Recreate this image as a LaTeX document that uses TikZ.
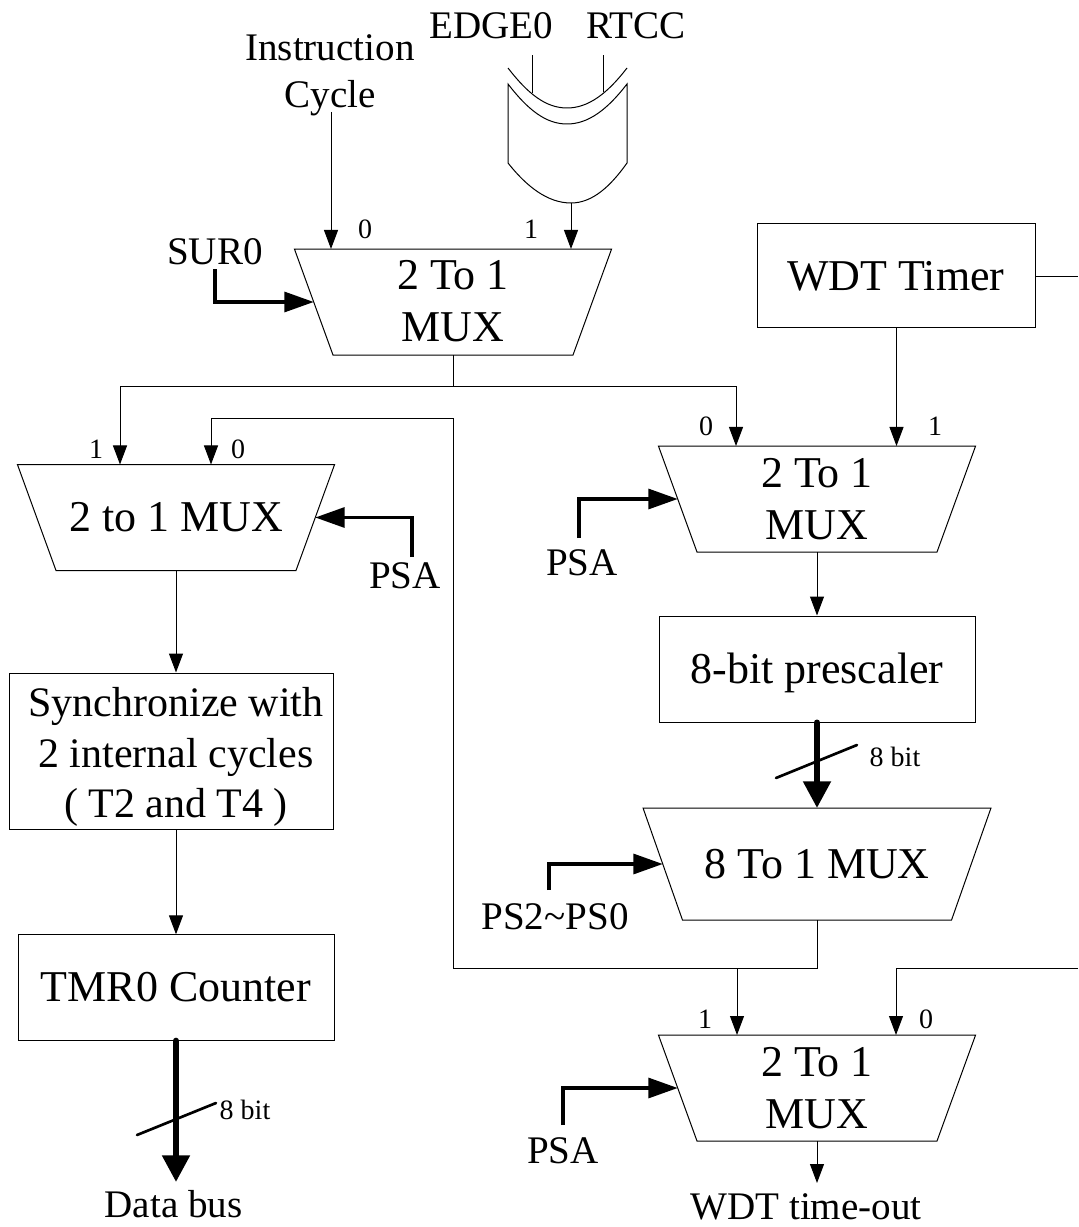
\documentclass[tikz,border=0pt]{standalone}
\usepackage{fontspec}
\setmainfont{Liberation Serif}
\usetikzlibrary{arrows.meta,shapes.geometric}
\tikzset{
 x=.75pt,y=-.75pt,
 wire/.style={line width=.75pt,draw=black},
 arr/.style={wire,-{Triangle[length=14.25pt,width=10.5pt]}},
 ctrl/.style={line width=2.3pt,line join=miter,-{Triangle[length=22pt,width=15pt]}},
 bus/.style={line width=4.5pt,line cap=round,-{Triangle[length=20pt,width=20pt]}},
 slash/.style={line width=2pt,line cap=round},
 big/.style={font=\fontsize{33}{39}\selectfont,align=center,inner sep=0pt},
 syntext/.style={font=\fontsize{31.5}{37.9}\selectfont,align=center,inner sep=0pt},
 mid/.style={font=\fontsize{29.3}{35}\selectfont,align=center,inner sep=0pt},
 tiny/.style={font=\fontsize{21}{25}\selectfont,inner sep=0pt},
 boxn/.style={big,draw,line width=.75pt,rectangle},
 mux/.style={draw,line width=.75pt,trapezium,shape border rotate=180,trapezium angle=70,outer sep=0pt,inner xsep=90pt,inner ysep=39.75pt},
 wide/.style={trapezium angle=70.6,inner xsep=100.9pt,inner ysep=42pt},
}
\begin{document}
\begin{tikzpicture}
\useasboundingbox (0,0) rectangle (1078,1227);
% multiplexers
\node[mux] (m1) at (453,302) {};
\node[big] (m1t) at (453,301) {2 To 1\\MUX};
\node[mux] (ml) at (176,517.5) {};
\node[big] (mlt) at (176,517.5) {2 to 1 MUX};
\node[mux] (m2) at (817,499) {};
\node[big] (m2t) at (817,499) {2 To 1\\MUX};
\node[mux,wide] (m8) at (817,864) {};
\node[big] (m8t) at (817,864) {8 To 1 MUX};
\node[mux] (mb) at (817,1088) {};
\node[big] (mbt) at (817,1088) {2 To 1\\MUX};
% boxes
\node[boxn,minimum width=209pt,minimum height=78pt] (wdt) at (896.5,275) {};
\node[big] (wdtt) at (896,276) {WDT Timer};
\node[boxn,minimum width=237pt,minimum height=79.5pt] (pre) at (817,669) {};
\node[big] (pret) at (817,673) {8-bit prescaler};
\node[boxn,minimum width=242.5pt,minimum height=117pt] (syn) at (171.5,751) {};
\node[syntext] (synt) at (176,757) {Synchronize with\\2 internal cycles\\( T2 and T4 )};
\node[boxn,minimum width=237pt,minimum height=79pt] (tmr) at (176,987.5) {};
\node[big] (tmrt) at (176,987.5) {TMR0 Counter};
% labels
\node[mid] (ic) at (330,75) {Instruction\\Cycle};
\node[mid] (edge) at (491,26) {EDGE0};
\node[mid] (rtcc) at (636,26) {RTCC};
\node[mid] (sur) at (215,252) {SUR0};
\node[mid] (psal) at (405,576) {PSA};
\node[mid] (psam) at (582,563) {PSA};
\node[mid] (psab) at (563,1151) {PSA};
\node[mid] (pss) at (555,917) {PS2\textasciitilde PS0};
\node[mid] (db) at (173.5,1204) {Data bus};
\node[mid] (to) at (806,1207) {WDT time-out};
\node[tiny] (b8a) at (895,757) {8 bit};
\node[tiny] (b8b) at (245,1110) {8 bit};
\node[tiny] (t1) at (365,229) {0};
\node[tiny] (t2) at (531,229) {1};
\node[tiny] (t3) at (96,449) {1};
\node[tiny] (t4) at (238,449) {0};
\node[tiny] (t5) at (706,426) {0};
\node[tiny] (t6) at (935,426) {1};
\node[tiny] (t7) at (705,1019) {1};
\node[tiny] (t8) at (926,1019) {0};
% OR gate
\draw[wire] (508,68) .. controls (528,94) and (546,108) .. (567,108) .. controls (588,108) and (607,94) .. (627,68);
\draw[wire] (508,84) .. controls (528,110) and (546,124) .. (567,124) .. controls (588,124) and (607,110) .. (627,84) -- (627,163) .. controls (610,187) and (592,203) .. (571,203) .. controls (548,203) and (527,187) .. (508,163) -- cycle;
\coordinate (gout) at (571,203);
\coordinate (gi1) at (532,93);
\coordinate (gi2) at (603,92);
\draw[wire] (edge.south -| gi1) ++(0,16) -- (gi1);
\draw[wire] (rtcc.south -| gi2) ++(0,16) -- (gi2);
% junctions
\coordinate (j1) at (453,386);
\coordinate (x1) at (120,386);
\coordinate (x2) at (736,386);
\coordinate (j2) at (453,968);
\coordinate (j3) at (453,418);
\coordinate (x3) at (211,418);
\coordinate (j4) at (737,968);
\coordinate (r1) at (1078,968);
\coordinate (x4) at (896,968);
\coordinate (r2) at (1078,276);
\coordinate (x5) at (331,112);
% connectors
\draw[arr] (x5) -- (x5 |- m1.north);
\draw[arr] (gout) -- (gout |- m1.north);
\draw[wire] (m1.south) -- (j1);
\draw[arr] (j1) -| (x1) -- (x1 |- ml.north);
\draw[arr] (j1) -| (x2) -- (x2 |- m2.north);
\draw[arr] (j2) -- (j3) -- (x3) -- (x3 |- ml.north);
\draw[wire] (m8.south) |- (j2);
\draw[arr] (j4) -- (j4 |- mb.north);
\draw[arr] (r1) -- (x4) -- (x4 |- mb.north);
\draw[wire] (wdt.east |- r2) -- (r2);
\draw[arr] (wdt.south) -- (wdt.south |- m2.north);
\draw[arr] (m2.south) -- (pre.north);
\draw[arr] (ml.south) -- (ml.south |- syn.north);
\draw[arr] (ml.south |- syn.south) -- (tmr.north);
\draw[arr] (mb.south) -- ++(0,42);
% control arrows
\coordinate (c1) at (215,269);
\coordinate (c2) at (412,557);
\coordinate (c3) at (579,538);
\coordinate (c4) at (549,890);
\coordinate (c5) at (563,1125);
\draw[ctrl] (c1) |- (m1.west);
\draw[ctrl] (c2) |- (ml.east);
\draw[ctrl] (c3) |- (m2.west);
\draw[ctrl] (c4) |- (m8.west);
\draw[ctrl] (c5) |- (mb.west);
% buses
\draw[bus] (pre.south) -- (m8.north);
\draw[bus] (tmr.south) -- (176,1182);
\coordinate (s1) at (776,778);
\coordinate (s2) at (857,745);
\coordinate (s3) at (137,1135);
\coordinate (s4) at (216,1103);
\draw[slash] (s1) -- (s2);
\draw[slash] (s3) -- (s4);
\end{tikzpicture}
\end{document}
